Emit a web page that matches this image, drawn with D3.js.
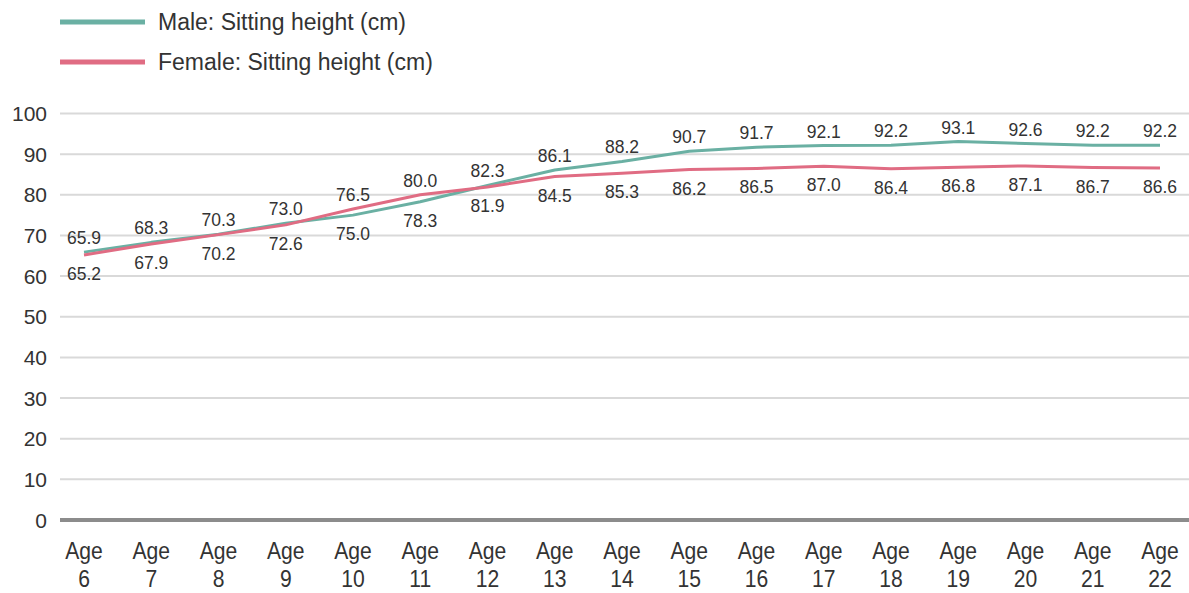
<!DOCTYPE html>
<html lang="en">
<head>
  <meta charset="UTF-8">
  <style>
    body {
      margin: 0;
      overflow: hidden;
      background: #fff;
    }

    svg {
      display: block;
      font-family: "Liberation Sans", Arial, sans-serif;
    }

    .grid line {
      stroke: #d9d9d9;
      stroke-width: 2;
    }

    .tick-label {
      fill: #333;
      font-size: 21px;
    }

    .age-label {
      fill: #333;
      font-size: 24px;
    }

    .value-label {
      fill: #333;
      font-size: 17.5px;
    }
  </style>
  <script src="https://d3js.org/d3.v7.min.js"></script>
</head>
<body>

<svg id="chart"></svg>

<script>
  const ages = ["6", "7", "8", "9", "10", "11", "12", "13", "14", "15", "16", "17", "18", "19", "20", "21", "22"];
  const maleValues = [65.9, 68.3, 70.3, 73.0, 75.0, 78.3, 82.3, 86.1, 88.2, 90.7, 91.7, 92.1, 92.2, 93.1, 92.6, 92.2, 92.2];
  const femaleValues = [65.2, 67.9, 70.2, 72.6, 76.5, 80.0, 81.9, 84.5, 85.3, 86.2, 86.5, 87.0, 86.4, 86.8, 87.1, 86.7, 86.6];
  const yTicks = [0, 10, 20, 30, 40, 50, 60, 70, 80, 90, 100];

  const series = [
    { name: "Male: Sitting height (cm)", values: maleValues, color: "#6ab0a3" },
    { name: "Female: Sitting height (cm)", values: femaleValues, color: "#e06c83" }
  ];

  const width = 1189, height = 593;

  const svg = d3.select("#chart")
    .attr("width", width)
    .attr("height", height);

  const x = d3.scalePoint()
    .domain(ages)
    .range([84, 1160]);

  const y = d3.scaleLinear()
    .domain([0, 100])
    .range([520, 113.5]);

  // gridlines
  svg.append("g")
    .attr("class", "grid")
    .selectAll("line")
    .data(yTicks.filter(d => d > 0))
    .join("line")
    .attr("x1", 60)
    .attr("x2", width)
    .attr("y1", d => y(d))
    .attr("y2", d => y(d));

  // baseline
  svg.append("line")
    .attr("x1", 60)
    .attr("x2", width)
    .attr("y1", y(0))
    .attr("y2", y(0))
    .attr("stroke", "#8c8c8c")
    .attr("stroke-width", 4);

  // y tick labels
  svg.append("g")
    .selectAll("text")
    .data(yTicks)
    .join("text")
    .attr("class", "tick-label")
    .attr("x", 47)
    .attr("y", d => y(d))
    .attr("dy", "0.36em")
    .attr("text-anchor", "end")
    .text(d => d);

  // x labels (two lines, condensed look)
  const xg = svg.append("g")
    .selectAll("g")
    .data(ages)
    .join("g")
    .attr("transform", d => `translate(${x(d)},0) scale(0.88,1)`);
  xg.append("text")
    .attr("class", "age-label")
    .attr("text-anchor", "middle")
    .attr("y", 559)
    .text("Age");
  xg.append("text")
    .attr("class", "age-label")
    .attr("text-anchor", "middle")
    .attr("y", 587)
    .text(d => d);

  // lines
  const line = d3.line()
    .x((d, i) => x(ages[i]))
    .y(d => y(d));

  series.forEach(s => {
    svg.append("path")
      .datum(s.values)
      .attr("fill", "none")
      .attr("stroke", s.color)
      .attr("stroke-width", 3)
      .attr("stroke-linejoin", "round")
      .attr("d", line);
  });

  // value labels: larger value above, smaller below
  ages.forEach((a, i) => {
    const m = maleValues[i], f = femaleValues[i];
    const hi = Math.max(m, f), lo = Math.min(m, f);
    svg.append("text")
      .attr("class", "value-label")
      .attr("text-anchor", "middle")
      .attr("x", x(a))
      .attr("y", y(hi) - 8)
      .text(hi.toFixed(1));
    svg.append("text")
      .attr("class", "value-label")
      .attr("text-anchor", "middle")
      .attr("x", x(a))
      .attr("y", y(lo) + 25)
      .text(lo.toFixed(1));
  });

  // legend
  const legend = svg.append("g");
  series.forEach((s, i) => {
    const ly = 22 + i * 40;
    legend.append("line")
      .attr("x1", 60)
      .attr("x2", 145)
      .attr("y1", ly)
      .attr("y2", ly)
      .attr("stroke", s.color)
      .attr("stroke-width", 5);
    legend.append("text")
      .attr("x", 158)
      .attr("y", ly)
      .attr("dy", "0.36em")
      .attr("fill", "#333")
      .attr("font-size", 23)
      .text(s.name);
  });
</script>

</body>
</html>
